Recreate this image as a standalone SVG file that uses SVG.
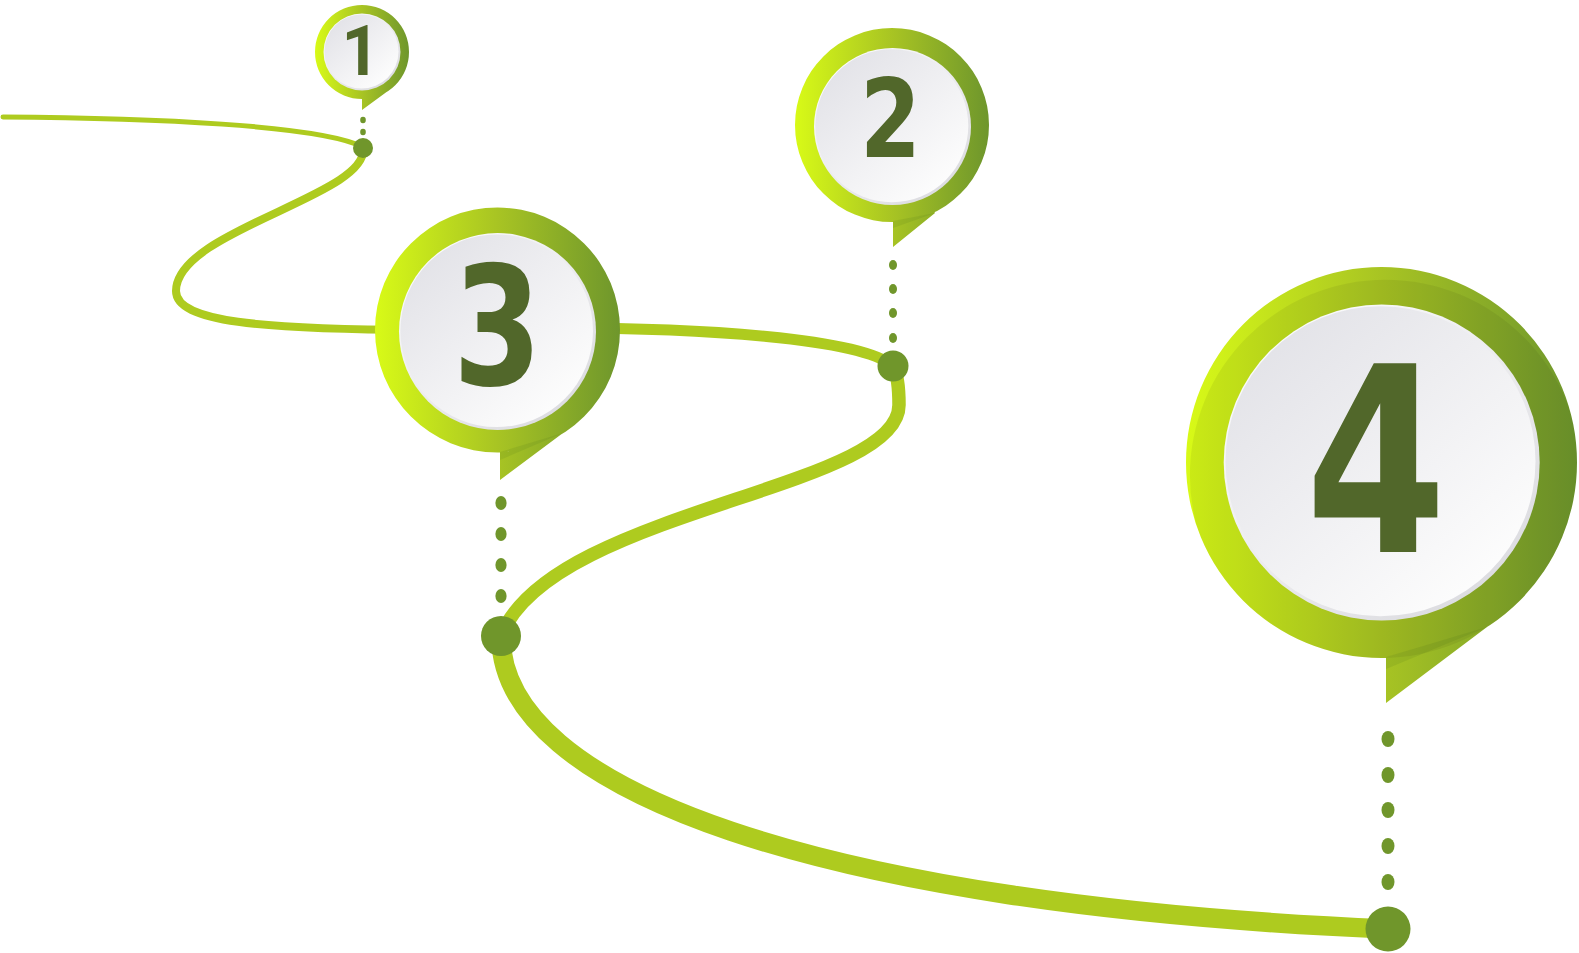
<svg xmlns="http://www.w3.org/2000/svg" width="1579" height="953" viewBox="0 0 1579 953">
  <defs>
    <linearGradient id="ring" x1="0" y1="0" x2="1" y2="0">
      <stop offset="0" stop-color="#d8fa17"/>
      <stop offset="0.5" stop-color="#a8c423"/>
      <stop offset="1" stop-color="#6e962c"/>
    </linearGradient>
    <linearGradient id="face" x1="0.15" y1="0.1" x2="0.85" y2="0.9">
      <stop offset="0" stop-color="#e3e3e8"/>
      <stop offset="1" stop-color="#fdfdfd"/>
    </linearGradient>
    <linearGradient id="rim" x1="0.15" y1="0.1" x2="0.85" y2="0.9">
      <stop offset="0" stop-color="#fbfbfc"/>
      <stop offset="1" stop-color="#dcdce0"/>
    </linearGradient>
    <clipPath id="pinclip" clipPathUnits="objectBoundingBox">
      <circle cx="0.49" cy="0.4675" r="0.5"/>
    </clipPath>
    <style>
      .road { fill: none; stroke: #aecb1f; stroke-linecap: round; }
      .dot { fill: #70962b; }
      .pin { fill: url(#ring); }
      .shade { fill: #000; opacity: 0.06; }
      .tailshade { fill: #4f7a1a; opacity: 0.15; }
      .rim { fill: url(#rim); }
      .face { fill: url(#face); }
      .num { font-family: "DejaVu Sans", sans-serif; font-stretch: condensed; font-weight: bold; fill: #51672a; text-anchor: middle; }
      .num1 { font-family: Roboto, "DejaVu Sans", sans-serif; font-weight: bold; fill: #51672a; text-anchor: middle; }
    </style>
  </defs>
  <rect width="1579" height="953" fill="#ffffff"/>

  <g id="connectors">
    <path class="road" stroke-width="5" d="M3,117 C150,118 320,125 363,147"/>
    <path class="road" stroke-width="8" d="M363,147 C372,195 176,230 176,291 C176,322 260,329 420,330"/>
    <path class="road" stroke-width="11" d="M560,328 C700,328 860,338 893,366"/>
    <path class="road" stroke-width="13.5" d="M893,366 C898,375 899,390 899,405 C899,490 550,510 501,636"/>
    <path class="road" stroke-width="19.5" d="M501,636 C500,790 820,905 1388,929"/>
    <g id="dots-1">
      <ellipse class="dot" cx="363" cy="120" rx="2.8" ry="3.3"/>
      <ellipse class="dot" cx="363" cy="132" rx="2.8" ry="3.3"/>
    </g>
    <g id="dots-2">
      <ellipse class="dot" cx="893" cy="265" rx="4" ry="5"/>
      <ellipse class="dot" cx="893" cy="289" rx="4" ry="5"/>
      <ellipse class="dot" cx="893" cy="313" rx="4" ry="5"/>
      <ellipse class="dot" cx="893" cy="338" rx="4" ry="5"/>
    </g>
    <g id="dots-3">
      <ellipse class="dot" cx="501" cy="503" rx="5.6" ry="7"/>
      <ellipse class="dot" cx="501" cy="534" rx="5.6" ry="7"/>
      <ellipse class="dot" cx="501" cy="565" rx="5.6" ry="7"/>
      <ellipse class="dot" cx="501" cy="596" rx="5.6" ry="7"/>
    </g>
    <g id="dots-4">
      <ellipse class="dot" cx="1388" cy="739" rx="6.5" ry="8"/>
      <ellipse class="dot" cx="1388" cy="775" rx="6.5" ry="8"/>
      <ellipse class="dot" cx="1388" cy="810" rx="6.5" ry="8"/>
      <ellipse class="dot" cx="1388" cy="846" rx="6.5" ry="8"/>
      <ellipse class="dot" cx="1388" cy="882" rx="6.5" ry="8"/>
    </g>
    <circle class="dot" cx="363" cy="148" r="10"/>
    <circle class="dot" cx="893" cy="366" r="15.5"/>
    <circle class="dot" cx="501" cy="636" r="20"/>
    <circle class="dot" cx="1388" cy="929" r="22.5"/>
  </g>

  <g id="step-1">
    <path class="pin" d="M315,52 A47,47 0 1 1 409,52 A47,47 0 1 1 315,52 Z M362,52 L392,88 L362,110 Z"/>
    <circle class="rim" cx="362" cy="52" r="38.5"/>
    <circle class="face" cx="361.5" cy="51.5" r="37"/>
    <text class="num1" transform="translate(360.5,75) scale(0.95,1)" font-size="70">1</text>
  </g>

  <g id="step-2">
    <path class="pin" d="M795,125 A97,97 0 1 1 989,125 A97,97 0 1 1 795,125 Z M893,125 L935,213 L893,247 Z"/>
    <polygon class="tailshade" points="893,221 935,213 893,228"/>
    <circle class="rim" cx="892.5" cy="126.5" r="78.5"/>
    <circle class="face" cx="891.8" cy="125.8" r="76.5"/>
    <text class="num" transform="translate(890.5,157) scale(0.9,1)" font-size="108">2</text>
  </g>

  <g id="step-3">
    <path class="pin" d="M375,330 A122.5,122.5 0 1 1 620,330 A122.5,122.5 0 1 1 375,330 Z M500,330 L563,433 L500,480 Z"/>
    <polygon class="tailshade" points="500,452 563,433 500,460"/>
    <circle class="rim" cx="497.5" cy="331.5" r="98.5"/>
    <circle class="face" cx="496.7" cy="330.7" r="96.3"/>
    <text class="num" transform="translate(497.5,385) scale(0.86,1)" font-size="165">3</text>
  </g>

  <g id="step-4">
    <path class="pin" d="M1186,462.5 A195.5,195.5 0 1 1 1577,462.5 A195.5,195.5 0 1 1 1186,462.5 Z M1386,462.5 L1487,627 L1386,703 Z"/>
    <polygon class="tailshade" points="1386,657 1487,627 1386,669"/>
    <circle class="shade" cx="1385.4" cy="475.2" r="195.5" clip-path="url(#pinclip)"/>
    <circle class="rim" cx="1381.7" cy="462.5" r="158"/>
    <circle class="face" cx="1380.5" cy="461.3" r="155"/>
    <text class="num" transform="translate(1376,552) scale(0.87,1)" font-size="259">4</text>
  </g>
</svg>
